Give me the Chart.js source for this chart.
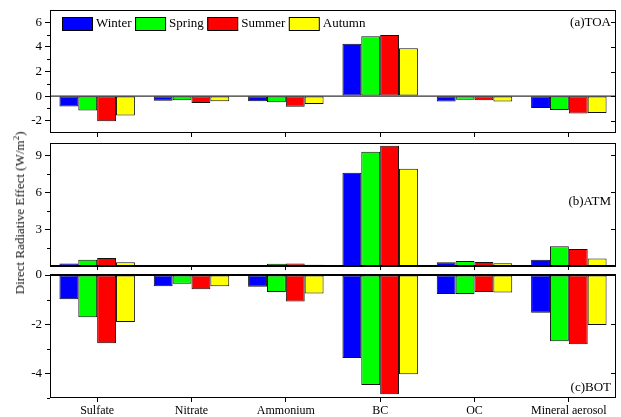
<!DOCTYPE html>
<html>
<head>
<meta charset="utf-8">
<script src="https://cdn.jsdelivr.net/npm/chart.js"></script>
<style>
  body { margin: 0; background: #fff; }
  #wrap { position: relative; width: 621px; height: 417px; overflow: hidden; font-family: "Liberation Serif", "Times New Roman", serif; }
  canvas { position: absolute; left: 0; }
  #ytitle { position: absolute; left: 20px; top: 213px; transform: translate(-50%, -50%) rotate(-90deg); white-space: nowrap; font-size: 13px; font-weight: 400; line-height: 14px; color: #111; }
  #ytitle sup { font-size: 9px; line-height: 0; }
</style>
</head>
<body>
<div id="wrap">
  <canvas id="toa" width="621" height="141" style="top:0px"></canvas>
  <canvas id="atm" width="621" height="138" style="top:136px"></canvas>
  <canvas id="bot" width="621" height="149" style="top:268px"></canvas>
  <div id="ytitle">Direct Radiative Effect (W/m<sup>2</sup>)</div>
</div>
<script>
const categories = ['Sulfate', 'Nitrate', 'Ammonium', 'BC', 'OC', 'Mineral aerosol'];
const seasons = ['Winter', 'Spring', 'Summer', 'Autumn'];
const seasonColors = ['#0000ff', '#00ff00', '#ff0000', '#ffff00'];

// (a) TOA
const toaWinter = [-0.84, -0.38, -0.41, 4.26, -0.44, -0.97];
const toaSpring = [-1.17, -0.33, -0.49, 4.86, -0.30, -1.13];
const toaSummer = [-2.05, -0.57, -0.87, 4.96, -0.33, -1.41];
const toaAutumn = [-1.57, -0.41, -0.65, 3.89, -0.44, -1.38];

// (b) ATM
const atmWinter = [0.20, 0.04, 0.05, 7.58, 0.30, 0.50];
const atmSpring = [0.50, 0.05, 0.18, 9.29, 0.40, 1.60];
const atmSummer = [0.66, 0.05, 0.20, 9.77, 0.32, 1.38];
const atmAutumn = [0.30, 0.04, 0.10, 7.90, 0.22, 0.60];

// (c) BOT
const botWinter = [-0.99, -0.46, -0.48, -3.37, -0.77, -1.53];
const botSpring = [-1.72, -0.36, -0.69, -4.47, -0.77, -2.69];
const botSummer = [-2.77, -0.58, -1.08, -4.85, -0.69, -2.81];
const botAutumn = [-1.91, -0.46, -0.75, -4.03, -0.71, -2.03];

const toaTicks = [-2, 0, 2, 4, 6];
const toaMinor = [-1, 1, 3, 5];
const atmTicks = [3, 6, 9];
const atmMinor = [1.5, 4.5, 7.5];
const botTicks = [-4, -2, 0];
const botMinor = [-5, -3, -1];

Chart.defaults.font.family = '"Liberation Serif", "Times New Roman", serif';
Chart.defaults.color = '#000';

// box round the plot, minor ticks, inward ticks on the right, zero line, panel label
const framePlugin = {
  id: 'frame',
  afterDraw(chart, args, opts) {
    const { ctx, chartArea: a } = chart;
    const y = chart.scales.y;
    ctx.save();
    ctx.strokeStyle = '#000';
    ctx.lineWidth = 1;
    ctx.strokeRect(a.left + 0.5, a.top + 0.5, a.right - a.left - 1, a.bottom - a.top - 1);
    ctx.beginPath();
    opts.minor.forEach(v => {
      const py = Math.round(y.getPixelForValue(v)) + 0.5;
      ctx.moveTo(a.left - 3, py); ctx.lineTo(a.left, py);
    });
    opts.major.forEach(v => {
      const py = Math.round(y.getPixelForValue(v)) + 0.5;
      ctx.moveTo(a.right - 5, py); ctx.lineTo(a.right, py);
    });
    ctx.stroke();
    const zy = y.getPixelForValue(0);
    ctx.lineWidth = opts.zeroWidth;
    ctx.beginPath();
    ctx.moveTo(a.left, zy); ctx.lineTo(a.right, zy);
    ctx.stroke();
    ctx.fillStyle = '#000';
    ctx.font = '13px "Liberation Serif"';
    ctx.textAlign = 'right';
    ctx.textBaseline = 'middle';
    const ly = opts.fromBottom ? a.bottom - opts.labelY : a.top + opts.labelY;
    ctx.fillText(opts.label, a.right - 5, ly);

    if (opts.legend) {
      let x = a.left + 12;
      const top = a.top + 7;
      ctx.textAlign = 'left';
      chart.data.datasets.forEach(ds => {
        ctx.fillStyle = ds.backgroundColor;
        ctx.fillRect(x, top, 30, 13);
        ctx.lineWidth = 1;
        ctx.strokeRect(x + 0.5, top + 0.5, 30, 13);
        ctx.fillStyle = '#000';
        ctx.fillText(ds.label, x + 34, top + 7);
        x += 34 + ctx.measureText(ds.label).width + 3.5;
      });
    }
    ctx.restore();
  }
};

function makePanel(id, series, yMin, yMax, major, minor, frame, padTop, xHeight, showLabels) {
  new Chart(document.getElementById(id), {
    type: 'bar',
    data: {
      labels: categories,
      datasets: series.map((vals, i) => ({
        label: seasons[i],
        data: vals,
        backgroundColor: seasonColors[i],
        borderColor: '#111',
        borderWidth: 1,
        borderSkipped: false,
        categoryPercentage: 0.8,
        barPercentage: 1.0,
      })),
    },
    options: {
      responsive: false,
      animation: false,
      devicePixelRatio: 1,
      layout: { padding: { top: padTop, right: 5, left: 0, bottom: 0 } },
      plugins: {
        legend: { display: false },
        tooltip: { enabled: false },
        frame: Object.assign({ major: major, minor: minor }, frame),
      },
      scales: {
        x: {
          grid: { offset: false, drawOnChartArea: false, drawTicks: true, tickLength: 4, color: '#000' },
          border: { display: false },
          ticks: { display: showLabels, font: { size: 12 }, padding: 2, maxRotation: 0, autoSkip: false },
          afterFit(scale) { scale.height = xHeight; scale.paddingLeft = 0; scale.paddingRight = 0; },
        },
        y: {
          min: yMin,
          max: yMax,
          afterBuildTicks(scale) { scale.ticks = major.map(v => ({ value: v })); },
          grid: { drawOnChartArea: false, drawTicks: true, tickLength: 5, color: '#000' },
          border: { display: false },
          ticks: { font: { size: 13 }, padding: 3 },
          afterFit(scale) { scale.width = 50; scale.paddingTop = 0; scale.paddingBottom = 0; },
        },
      },
    },
    plugins: [framePlugin],
  });
}

makePanel('toa', [toaWinter, toaSpring, toaSummer, toaAutumn], -3, 7, toaTicks, toaMinor,
  { label: '(a)TOA', labelY: 13, zeroWidth: 1, legend: true }, 10, 8, false);
makePanel('atm', [atmWinter, atmSpring, atmSummer, atmAutumn], 0, 10, atmTicks, atmMinor,
  { label: '(b)ATM', labelY: 59, zeroWidth: 2 }, 7, 8, false);
makePanel('bot', [botWinter, botSpring, botSummer, botAutumn], -5, 0, botTicks, botMinor,
  { label: '(c)BOT', labelY: 10, fromBottom: true, zeroWidth: 2 }, 7, 19, true);
</script>
</body>
</html>
